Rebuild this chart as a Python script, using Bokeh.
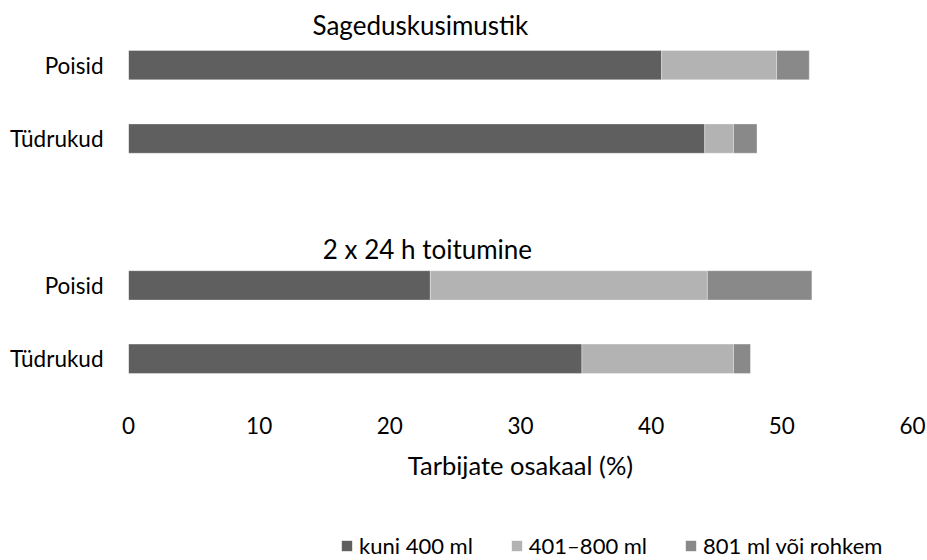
from bokeh.plotting import figure
from bokeh.layouts import column
from bokeh.models import Range1d, Legend, LegendItem, FixedTicker, ColumnDataSource
from bokeh.core.properties import value
from bokeh.embed import file_html
from bokeh.resources import INLINE

FONT = "Lato"

categories = ["Poisid", "Tüdrukud", "Poisid", "Tüdrukud"]
groups = ["Sageduskusimustik", "2 x 24 h toitumine"]
kuni_400 = [40.8, 44.1, 23.1, 34.7]
ml_401_800 = [8.8, 2.2, 21.2, 11.6]
ml_801_plus = [2.5, 1.8, 8.0, 1.3]
series_names = ["kuni 400 ml", "401–800 ml", "801 ml või rohkem"]
colors = ["#5f5f5f", "#b3b3b3", "#898989"]
x_ticks = [0, 10, 20, 30, 40, 50, 60]

# vertical positions: two groups of two bars with a gap between groups
ypos = [5, 4, 2, 1]
group_title_pos = [(22.34, 5.55), (22.88, 2.49)]

src = ColumnDataSource(dict(y=ypos, a=kuni_400, b=ml_401_800, c=ml_801_plus))

p = figure(frame_width=784, frame_height=406, output_backend="svg", toolbar_location=None,
           x_range=Range1d(0, 60), y_range=Range1d(0.35, 5.881),
           min_border_left=128, min_border_right=15, min_border_top=0,
           min_border_bottom=0)

p.hbar_stack(["a", "b", "c"], y="y", height=0.4, color=colors, source=src,
             line_color="white", line_alpha=0.35, line_width=1)

p.xaxis.ticker = FixedTicker(ticks=x_ticks)
p.xaxis.axis_label = "Tarbijate osakaal (%)"
p.yaxis.ticker = FixedTicker(ticks=ypos)
p.yaxis.major_label_overrides = {y: c for y, c in zip(ypos, categories)}

for ax in (p.xaxis, p.yaxis):
    ax.axis_line_color = None
    ax.major_tick_line_color = None
    ax.minor_tick_line_color = None
    ax.major_label_text_font = FONT
    ax.major_label_text_font_size = "22.5px"
    ax.major_label_text_color = "#000000"
p.yaxis.major_label_standoff = 19
p.xaxis.major_label_standoff = 4
p.xaxis.axis_label_text_font = FONT
p.xaxis.axis_label_text_font_size = "25.5px"
p.xaxis.axis_label_text_font_style = "normal"
p.xaxis.axis_label_text_color = "#000000"
p.xaxis.axis_label_standoff = 13

p.xgrid.grid_line_color = None
p.ygrid.grid_line_color = None
p.outline_line_color = None

# group titles
p.text(x=[t[0] for t in group_title_pos], y=[t[1] for t in group_title_pos],
       text=groups, text_font=value(FONT),
       text_font_size="26px", text_align="center", text_baseline="middle",
       text_color="#000000")

# separate strip underneath that carries only the legend
lg = figure(width=927, height=79, output_backend="svg", toolbar_location=None,
            x_range=Range1d(0, 60), y_range=Range1d(100, 101),
            x_axis_type=None, y_axis_type=None,
            min_border_left=0, min_border_right=0, min_border_top=0,
            min_border_bottom=0)
lg.xgrid.grid_line_color = None
lg.ygrid.grid_line_color = None
lg.outline_line_color = None
rs = lg.hbar_stack(["a", "b", "c"], y="y", height=0.4, color=colors, source=src,
                   line_color=None)

legend = Legend(items=[LegendItem(label=n, renderers=[r]) for n, r in zip(series_names, rs)],
                orientation="horizontal", location=(212, 2))
legend.glyph_width = 13
legend.glyph_height = 13
legend.label_standoff = 6
legend.spacing = 37
legend.padding = 0
legend.margin = 0
legend.border_line_color = None
legend.background_fill_alpha = 0
legend.label_text_font = FONT
legend.label_text_font_size = "22px"
legend.label_text_color = "#000000"
lg.add_layout(legend, "center")

layout = column(p, lg, spacing=0)
open("out.html", "w").write(file_html(layout, INLINE))
